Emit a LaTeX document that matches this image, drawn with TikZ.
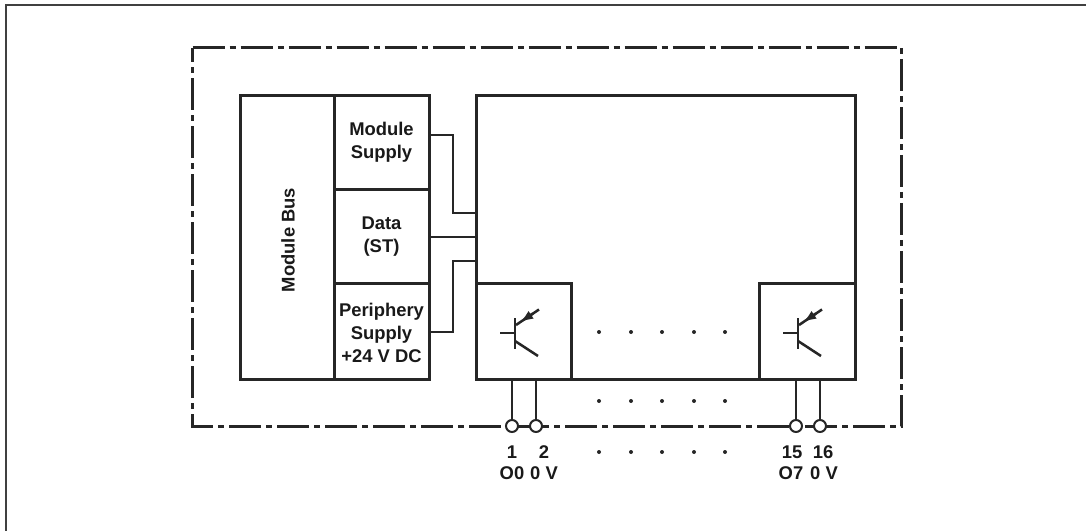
\documentclass[tikz,border=0pt]{standalone}
\usepackage{fontspec}
\setmainfont{Liberation Sans}
\usetikzlibrary{arrows.meta}

\begin{document}
\begin{tikzpicture}[x=0.75pt,y=-0.75pt,
	heavy/.style={line width=2.25pt,draw=black!85,outer sep=0pt,inner sep=0pt,anchor=north west},
	wire/.style={line width=1.9pt,draw=black!85},
	thin wire/.style={line width=1.4pt,draw=black!85},
	label/.style={font=\fontsize{13.8pt}{17.25pt}\selectfont\bfseries,align=center,text=black!90,inner sep=0pt},
	terminal/.style={circle,draw=black!85,line width=1.5pt,fill=white,minimum size=9pt,inner sep=0pt,outer sep=0pt},
	spot/.style={circle,fill=black!85,minimum size=3pt,inner sep=0pt}]
	\useasboundingbox (0,0) rectangle (1086,531);
	% frame
	\draw[line width=1.1pt,draw=black!75] (6,531) -- (6,5) -- (1086,5);

	% housing
	\draw[line width=2.25pt,draw=black!85,dash pattern=on 24pt off 3.75pt on 4.5pt off 3.75pt]
		(192.5,48) -- (901.5,48) -- (901.5,426) -- (192.5,426) -- cycle;

	% bus side
	\node[heavy,draw,minimum width=70.5pt,minimum height=212.25pt] (bus) at (240,96) {};
	\node[label,rotate=90] (buslabel) at (288,240) {Module Bus};
	\node[heavy,draw,minimum width=71.25pt,minimum height=70.5pt] (supply) at (334,96) {};
	\node[heavy,draw,minimum width=71.25pt,minimum height=70.5pt] (data) at (334,190) {};
	\node[heavy,draw,minimum width=71.25pt,minimum height=71.25pt] (periphery) at (334,284) {};
	\node[label] (supplylabel) at (381.5,142) {Module\\Supply};
	\node[label] (datalabel) at (381.5,237) {Data\\(ST)};
	\node[label] (peripherylabel) at (381.5,333) {Periphery\\Supply\\+24 V DC};

	% electronics
	\node[heavy,draw,minimum width=284.25pt,minimum height=212.25pt] (main) at (476,96) {};
	\node[heavy,draw,minimum width=71.25pt,minimum height=71.25pt] (first) at (476,284) {};
	\node[heavy,draw,minimum width=72pt,minimum height=71.25pt] (last) at (759,284) {};

	% connections
	\draw[wire] (429,135) -| (453,213) -- (476,213);
	\draw[wire] (429,237) -- (476,237);
	\draw[wire] (429,332) -| (453,261) -- (476,261);

	% transistors
	\foreach \dx in {0,283} {
		\begin{scope}[xshift=\dx*0.75pt]
			\draw[thin wire] (500,333) -- (515,333);
			\draw[wire] (515,318) -- (515,349);
			\draw[wire] (515,341) -- (538,356);
			\draw[wire] (539,309.5) -- (516,325);
			\draw[wire,-{Latex[length=10pt,width=7pt]}] (533,313.5) -- (520,322.3);
		\end{scope}
	}

	% terminals
	\foreach \name/\x/\num/\xnum in {a/512/1/512,b/536/2/544,c/796/15/792,d/820/16/823} {
		\node[terminal] (t\name) at (\x,426) {};
		\draw[thin wire] (\x,379) -- (t\name);
		\node[label] (n\name) at (\xnum,452) {\num};
	}
	\node[label] (sa) at (512,473) {O0};
	\node[label] (sb) at (544,473) {0 V};
	\node[label] (sc) at (791,473) {O7};
	\node[label] (sd) at (824,473) {0 V};

	% dots
	\foreach \x in {599,631,662,694,725} {
		\foreach \y in {332,401,452} {
			\node[spot] at (\x,\y) {};
		}
	}
\end{tikzpicture}
\end{document}
